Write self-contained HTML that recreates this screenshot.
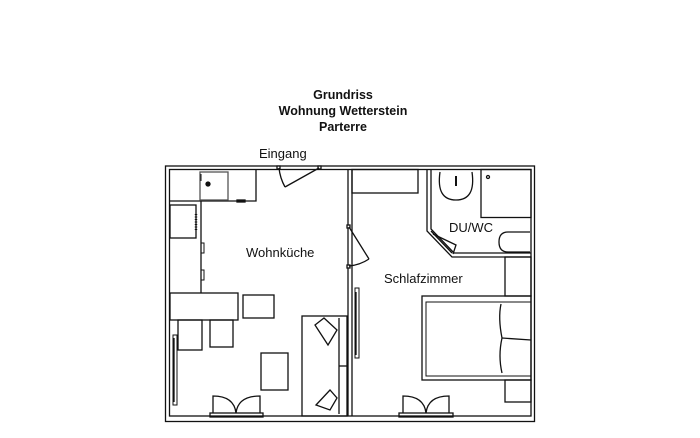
<!DOCTYPE html>
<html><head><meta charset="utf-8"><style>html,body{margin:0;padding:0;background:#fff}svg{display:block}</style></head><body>
<svg width="700" height="438" viewBox="0 0 700 438" xmlns="http://www.w3.org/2000/svg" font-family="Liberation Sans, sans-serif">
<rect width="700" height="438" fill="#fff"/>
<g font-weight="bold" font-size="12.5" text-anchor="middle" fill="#111">
<text x="343" y="99">Grundriss</text>
<text x="343" y="115">Wohnung Wetterstein</text>
<text x="343" y="131">Parterre</text>
</g>
<g font-size="13" fill="#111">
<text x="259" y="158">Eingang</text>
<text x="246" y="257">Wohnküche</text>
<text x="384" y="283">Schlafzimmer</text>
<text x="449" y="232">DU/WC</text>
</g>
<g fill="none" stroke="#111" stroke-width="1.3">
<rect x="165.5" y="166" width="369" height="255.5"/>
<rect x="169.5" y="169.5" width="361.5" height="246.5"/>
<line x1="348" y1="169.5" x2="348" y2="416"/>
<line x1="352" y1="169.5" x2="352" y2="416"/>
<rect x="277" y="166" width="3" height="3" fill="#fff"/>
<rect x="318" y="166" width="3" height="3" fill="#fff"/>
<line x1="319" y1="168" x2="285" y2="187"/>
<path d="M285 187 Q280 178 279 168"/>
<path d="M169.5 201 H256 V169.5"/>
<rect x="200" y="172" width="28" height="28" stroke="#555"/>
<circle cx="208" cy="184" r="2" fill="#111"/>
<line x1="201" y1="174" x2="201" y2="181" stroke-width="1"/>
<rect x="237" y="200" width="8" height="2" fill="#111"/>
<rect x="170" y="205" width="26" height="33"/>
<line x1="196" y1="214" x2="196" y2="230" stroke-width="2.5" stroke-dasharray="1 1.5"/>
<path d="M201 201 V293"/>
<rect x="201" y="243" width="3" height="10" stroke-width="1"/>
<rect x="201" y="270" width="3" height="10" stroke-width="1"/>
<rect x="170" y="293" width="68" height="27"/>
<rect x="178" y="320" width="24" height="30"/>
<rect x="210" y="320" width="23" height="27"/>
<rect x="243" y="295" width="31" height="23"/>
<rect x="261" y="353" width="27" height="37"/>
<rect x="302" y="316" width="45" height="100"/>
<line x1="339" y1="318" x2="339" y2="414"/>
<line x1="339" y1="366" x2="347" y2="366"/>
<path d="M315 325 L324 318 L337 330 L328 345 Z"/>
<path d="M316 405 L330 390 L337 398 L330 410 Z"/>
<rect x="173" y="335" width="4" height="70" stroke-width="1"/>
<line x1="174" y1="338" x2="174" y2="402"/>
<rect x="210" y="413" width="53" height="4"/>
<path d="M213 413 V396 Q234 396 236 413"/>
<path d="M260 413 V396 Q238 396 236 413"/>
<rect x="347" y="225" width="3" height="3" fill="#fff"/>
<rect x="347" y="265" width="3" height="3" fill="#fff"/>
<line x1="349" y1="227" x2="369" y2="259"/>
<path d="M369 259 Q360 265 349 266"/>
<rect x="352" y="169.5" width="66" height="23.5"/>
<rect x="355" y="288" width="4" height="70" stroke-width="1"/>
<line x1="356" y1="292" x2="356" y2="355"/>
<path d="M427 169.5 V231 L452 257 H531"/>
<path d="M431 169.5 V229 L454 253 H531"/>
<line x1="431" y1="231" x2="452" y2="253"/>
<path d="M433 234 L456 245 L453 254"/>
<path d="M440 172 Q436 200 456 200 Q476 200 472 172"/>
<line x1="456" y1="176" x2="456" y2="186" stroke-width="2"/>
<rect x="481" y="169.5" width="50" height="48"/>
<circle cx="488" cy="177" r="1.5"/>
<path d="M530 232 H508 Q499 232 499 242 Q499 252 508 252 H530"/>
<rect x="422" y="296" width="109" height="84"/>
<rect x="426" y="302" width="105" height="74" stroke-width="1"/>
<path d="M501 304 Q498 318 502 338 Q498 356 502 373"/>
<line x1="502" y1="338" x2="531" y2="340"/>
<rect x="505" y="257" width="26" height="39"/>
<rect x="505" y="380" width="26" height="22"/>
<rect x="399" y="413" width="54" height="4"/>
<path d="M403 413 V396 Q424 396 426 413"/>
<path d="M449 413 V396 Q428 396 426 413"/>
</g>
</svg>
</body></html>
